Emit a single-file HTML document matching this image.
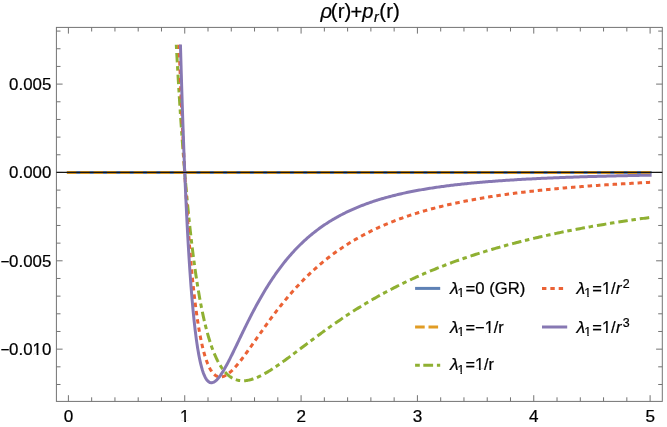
<!DOCTYPE html>
<html><head><meta charset="utf-8"><title>plot</title>
<style>html,body{margin:0;padding:0;background:#fff;}body{width:667px;height:427px;overflow:hidden;font-family:"Liberation Sans",sans-serif;}</style></head>
<body>
<svg width="667" height="427" viewBox="0 0 667 427" style="display:block;will-change:transform">
<rect width="667" height="427" fill="#fff"/>
<defs><clipPath id="pc"><rect x="56.40" y="44.4" width="605.90" height="357.00"/></clipPath></defs>
<g fill="none" stroke-width="3" stroke-linejoin="round" clip-path="url(#pc)">
<path d="M68.4 172.45 H650.1" stroke="#5e81b5" stroke-linecap="square"/>
<path d="M66.9 172.45 H650.3" stroke="#d6941f" stroke-dasharray="9.45 3.9"/>
<path d="M176.30 44.50 L176.32 45.00 L176.38 46.02 L176.45 47.41 L176.54 49.10 L176.65 51.06 L176.77 53.25 L176.90 55.66 L177.05 58.27 L177.20 61.06 L177.37 64.02 L177.54 67.13 L177.73 70.39 L177.93 73.78 L178.13 77.29 L178.35 80.92 L178.57 84.65 L178.80 88.48 L179.04 92.40 L179.29 96.40 L179.55 100.48 L179.81 104.62 L180.08 108.82 L180.36 113.08 L180.65 117.39 L180.94 121.75 L181.24 126.14 L181.55 130.56 L181.87 135.01 L182.19 139.48 L182.52 143.97 L182.85 148.48 L183.19 152.99 L183.54 157.51 L183.90 162.02 L184.26 166.53 L184.62 171.04 L185.00 175.53 L185.38 180.01 L185.76 184.48 L186.15 188.92 L186.55 193.34 L186.95 197.73 L187.36 202.09 L187.78 206.42 L188.20 210.72 L188.62 214.98 L189.05 219.20 L189.49 223.38 L189.93 227.52 L190.38 231.61 L190.84 235.66 L191.29 239.66 L191.76 243.61 L192.23 247.51 L192.70 251.36 L193.18 255.15 L193.67 258.89 L194.16 262.57 L194.65 266.20 L195.15 269.77 L195.66 273.28 L196.17 276.74 L196.69 280.13 L197.21 283.47 L197.73 286.74 L198.26 289.95 L198.80 293.10 L199.34 296.19 L199.88 299.22 L200.43 302.19 L200.98 305.09 L201.54 307.94 L202.10 310.72 L202.67 313.43 L203.25 316.09 L203.82 318.68 L204.40 321.22 L204.99 323.69 L205.58 326.10 L206.18 328.45 L206.78 330.74 L207.38 332.97 L207.99 335.13 L208.60 337.24 L209.22 339.29 L209.84 341.29 L210.47 343.22 L211.10 345.10 L211.73 346.92 L212.37 348.68 L213.02 350.39 L213.67 352.04 L214.32 353.64 L214.97 355.18 L215.63 356.67 L216.30 358.11 L216.97 359.49 L217.64 360.83 L218.32 362.11 L219.00 363.34 L219.68 364.53 L220.37 365.66 L221.07 366.75 L221.76 367.79 L222.47 368.79 L223.17 369.74 L223.88 370.64 L224.59 371.50 L225.31 372.32 L226.03 373.09 L226.76 373.82 L227.49 374.51 L228.22 375.16 L228.96 375.77 L229.70 376.35 L230.44 376.88 L231.19 377.37 L231.95 377.83 L232.70 378.25 L233.46 378.64 L234.23 378.99 L235.00 379.31 L235.77 379.60 L236.54 379.85 L237.32 380.07 L238.10 380.26 L238.89 380.41 L239.68 380.54 L240.48 380.64 L241.27 380.71 L242.08 380.75 L242.88 380.77 L243.69 380.75 L244.50 380.72 L245.32 380.65 L246.14 380.56 L246.96 380.45 L247.79 380.31 L248.62 380.15 L249.45 379.97 L250.29 379.76 L251.13 379.54 L251.98 379.29 L252.83 379.02 L253.68 378.74 L254.53 378.43 L255.39 378.10 L256.26 377.76 L257.12 377.40 L257.99 377.02 L258.87 376.63 L259.74 376.21 L260.62 375.79 L261.51 375.34 L262.39 374.88 L263.28 374.41 L264.18 373.93 L265.07 373.43 L265.98 372.91 L266.88 372.39 L267.79 371.85 L268.70 371.30 L269.61 370.73 L270.53 370.16 L271.45 369.58 L272.38 368.98 L273.30 368.38 L274.23 367.76 L275.17 367.14 L276.11 366.50 L277.05 365.86 L277.99 365.21 L278.94 364.55 L279.89 363.89 L280.84 363.21 L281.80 362.53 L282.76 361.84 L283.73 361.15 L284.69 360.45 L285.66 359.74 L286.64 359.03 L287.62 358.31 L288.60 357.58 L289.58 356.86 L290.57 356.12 L291.56 355.38 L292.55 354.64 L293.55 353.90 L294.54 353.15 L295.55 352.39 L296.55 351.63 L297.56 350.87 L298.57 350.11 L299.59 349.34 L300.61 348.57 L301.63 347.80 L302.65 347.03 L303.68 346.25 L304.71 345.47 L305.75 344.69 L306.78 343.91 L307.82 343.13 L308.87 342.35 L309.91 341.56 L310.96 340.77 L312.02 339.99 L313.07 339.20 L314.13 338.41 L315.19 337.62 L316.26 336.83 L317.33 336.05 L318.40 335.26 L319.47 334.47 L320.55 333.68 L321.63 332.89 L322.71 332.10 L323.80 331.32 L324.89 330.53 L325.98 329.74 L327.07 328.96 L328.17 328.17 L329.27 327.39 L330.38 326.61 L331.48 325.83 L332.59 325.05 L333.71 324.27 L334.82 323.49 L335.94 322.72 L337.06 321.95 L338.19 321.17 L339.31 320.40 L340.45 319.64 L341.58 318.87 L342.72 318.10 L343.85 317.34 L345.00 316.58 L346.14 315.82 L347.29 315.07 L348.44 314.31 L349.60 313.56 L350.75 312.81 L351.91 312.07 L353.07 311.32 L354.24 310.58 L355.41 309.84 L356.58 309.10 L357.75 308.37 L358.93 307.64 L360.11 306.91 L361.29 306.18 L362.48 305.46 L363.67 304.74 L364.86 304.02 L366.05 303.30 L367.25 302.59 L368.45 301.88 L369.65 301.18 L370.85 300.47 L372.06 299.77 L373.27 299.07 L374.49 298.38 L375.70 297.69 L376.92 297.00 L378.14 296.31 L379.37 295.63 L380.60 294.95 L381.83 294.27 L383.06 293.60 L384.30 292.93 L385.53 292.26 L386.78 291.60 L388.02 290.94 L389.27 290.28 L390.52 289.63 L391.77 288.98 L393.02 288.33 L394.28 287.68 L395.54 287.04 L396.80 286.40 L398.07 285.77 L399.34 285.14 L400.61 284.51 L401.88 283.88 L403.16 283.26 L404.44 282.64 L405.72 282.02 L407.01 281.41 L408.30 280.80 L409.59 280.20 L410.88 279.59 L412.17 278.99 L413.47 278.40 L414.77 277.80 L416.08 277.21 L417.38 276.62 L418.69 276.04 L420.00 275.46 L421.32 274.88 L422.63 274.31 L423.95 273.74 L425.28 273.17 L426.60 272.60 L427.93 272.04 L429.26 271.48 L430.59 270.93 L431.93 270.38 L433.26 269.83 L434.61 269.28 L435.95 268.74 L437.29 268.20 L438.64 267.66 L439.99 267.13 L441.35 266.60 L442.70 266.07 L444.06 265.55 L445.42 265.02 L446.79 264.51 L448.15 263.99 L449.52 263.48 L450.89 262.97 L452.27 262.46 L453.65 261.96 L455.03 261.46 L456.41 260.96 L457.79 260.47 L459.18 259.98 L460.57 259.49 L461.96 259.00 L463.36 258.52 L464.75 258.04 L466.15 257.56 L467.56 257.09 L468.96 256.62 L470.37 256.15 L471.78 255.68 L473.19 255.22 L474.60 254.76 L476.02 254.30 L477.44 253.85 L478.87 253.39 L480.29 252.95 L481.72 252.50 L483.15 252.06 L484.58 251.61 L486.02 251.18 L487.45 250.74 L488.89 250.31 L490.34 249.88 L491.78 249.45 L493.23 249.02 L494.68 248.60 L496.13 248.18 L497.59 247.76 L499.04 247.35 L500.50 246.94 L501.97 246.53 L503.43 246.12 L504.90 245.72 L506.37 245.31 L507.84 244.91 L509.32 244.52 L510.79 244.12 L512.27 243.73 L513.75 243.34 L515.24 242.95 L516.73 242.57 L518.22 242.18 L519.71 241.80 L521.20 241.43 L522.70 241.05 L524.20 240.68 L525.70 240.31 L527.20 239.94 L528.71 239.57 L530.22 239.21 L531.73 238.84 L533.24 238.48 L534.76 238.13 L536.28 237.77 L537.80 237.42 L539.32 237.07 L540.85 236.72 L542.38 236.37 L543.91 236.03 L545.44 235.69 L546.98 235.35 L548.51 235.01 L550.05 234.67 L551.60 234.34 L553.14 234.01 L554.69 233.68 L556.24 233.35 L557.79 233.02 L559.34 232.70 L560.90 232.38 L562.46 232.06 L564.02 231.74 L565.58 231.43 L567.15 231.11 L568.72 230.80 L570.29 230.49 L571.86 230.18 L573.44 229.88 L575.02 229.57 L576.60 229.27 L578.18 228.97 L579.76 228.67 L581.35 228.38 L582.94 228.08 L584.53 227.79 L586.13 227.50 L587.72 227.21 L589.32 226.92 L590.92 226.64 L592.53 226.35 L594.13 226.07 L595.74 225.79 L597.35 225.51 L598.97 225.23 L600.58 224.96 L602.20 224.69 L603.82 224.41 L605.44 224.14 L607.06 223.88 L608.69 223.61 L610.32 223.34 L611.95 223.08 L613.59 222.82 L615.22 222.56 L616.86 222.30 L618.50 222.04 L620.14 221.79 L621.79 221.53 L623.43 221.28 L625.08 221.03 L626.74 220.78 L628.39 220.53 L630.05 220.29 L631.71 220.04 L633.37 219.80 L635.03 219.56 L636.69 219.32 L638.36 219.08 L640.03 218.84 L641.70 218.60 L643.38 218.37 L645.06 218.14 L646.74 217.91 L648.42 217.68 L650.10 217.45" stroke="#8fb032" stroke-dasharray="4.5 3.97 9.5 3.72"/>
<path d="M179.06 44.50 L179.09 45.24 L179.14 46.73 L179.22 48.76 L179.31 51.22 L179.41 54.07 L179.53 57.25 L179.66 60.74 L179.81 64.51 L179.96 68.52 L180.13 72.76 L180.30 77.21 L180.49 81.85 L180.68 86.65 L180.89 91.61 L181.10 96.71 L181.32 101.93 L181.55 107.27 L181.79 112.70 L182.04 118.21 L182.29 123.80 L182.56 129.45 L182.83 135.15 L183.10 140.89 L183.39 146.66 L183.68 152.45 L183.98 158.26 L184.29 164.07 L184.60 169.87 L184.92 175.66 L185.24 181.43 L185.58 187.18 L185.92 192.89 L186.26 198.56 L186.62 204.19 L186.97 209.76 L187.34 215.28 L187.71 220.74 L188.09 226.13 L188.47 231.45 L188.86 236.70 L189.25 241.86 L189.66 246.95 L190.06 251.95 L190.47 256.87 L190.89 261.69 L191.32 266.42 L191.74 271.06 L192.18 275.60 L192.62 280.04 L193.06 284.37 L193.52 288.61 L193.97 292.74 L194.43 296.77 L194.90 300.70 L195.37 304.52 L195.85 308.23 L196.33 311.83 L196.82 315.33 L197.31 318.72 L197.81 322.01 L198.31 325.18 L198.82 328.26 L199.33 331.22 L199.85 334.08 L200.37 336.84 L200.90 339.49 L201.43 342.04 L201.97 344.48 L202.51 346.83 L203.05 349.07 L203.60 351.22 L204.16 353.27 L204.72 355.22 L205.28 357.07 L205.85 358.84 L206.43 360.50 L207.01 362.08 L207.59 363.57 L208.18 364.97 L208.77 366.28 L209.36 367.51 L209.96 368.66 L210.57 369.72 L211.18 370.71 L211.79 371.61 L212.41 372.44 L213.03 373.19 L213.66 373.87 L214.29 374.48 L214.93 375.01 L215.57 375.48 L216.21 375.88 L216.86 376.22 L217.51 376.49 L218.17 376.70 L218.83 376.85 L219.49 376.94 L220.16 376.98 L220.84 376.96 L221.51 376.88 L222.20 376.75 L222.88 376.58 L223.57 376.35 L224.26 376.07 L224.96 375.75 L225.66 375.39 L226.37 374.98 L227.08 374.53 L227.79 374.04 L228.51 373.51 L229.23 372.94 L229.95 372.33 L230.68 371.69 L231.42 371.02 L232.15 370.31 L232.89 369.58 L233.64 368.81 L234.39 368.01 L235.14 367.19 L235.89 366.34 L236.65 365.47 L237.42 364.57 L238.18 363.64 L238.96 362.70 L239.73 361.73 L240.51 360.75 L241.29 359.74 L242.08 358.72 L242.87 357.68 L243.66 356.62 L244.46 355.55 L245.26 354.46 L246.06 353.36 L246.87 352.25 L247.68 351.12 L248.50 349.98 L249.31 348.83 L250.14 347.68 L250.96 346.51 L251.79 345.33 L252.62 344.15 L253.46 342.96 L254.30 341.76 L255.14 340.56 L255.99 339.35 L256.84 338.14 L257.70 336.92 L258.55 335.70 L259.42 334.47 L260.28 333.24 L261.15 332.01 L262.02 330.78 L262.89 329.55 L263.77 328.32 L264.66 327.08 L265.54 325.85 L266.43 324.61 L267.32 323.38 L268.22 322.15 L269.12 320.92 L270.02 319.69 L270.92 318.46 L271.83 317.24 L272.74 316.02 L273.66 314.80 L274.58 313.58 L275.50 312.37 L276.43 311.17 L277.36 309.96 L278.29 308.76 L279.22 307.57 L280.16 306.38 L281.11 305.19 L282.05 304.01 L283.00 302.84 L283.95 301.67 L284.91 300.51 L285.86 299.35 L286.83 298.20 L287.79 297.05 L288.76 295.91 L289.73 294.78 L290.71 293.66 L291.68 292.54 L292.66 291.42 L293.65 290.32 L294.64 289.22 L295.63 288.13 L296.62 287.04 L297.62 285.97 L298.62 284.90 L299.62 283.83 L300.63 282.78 L301.63 281.73 L302.65 280.69 L303.66 279.66 L304.68 278.63 L305.70 277.61 L306.73 276.60 L307.76 275.60 L308.79 274.61 L309.82 273.62 L310.86 272.64 L311.90 271.67 L312.94 270.71 L313.99 269.75 L315.04 268.81 L316.09 267.87 L317.15 266.93 L318.21 266.01 L319.27 265.09 L320.33 264.19 L321.40 263.28 L322.47 262.39 L323.54 261.51 L324.62 260.63 L325.70 259.76 L326.78 258.90 L327.87 258.05 L328.96 257.20 L330.05 256.36 L331.14 255.53 L332.24 254.71 L333.34 253.89 L334.45 253.08 L335.55 252.28 L336.66 251.49 L337.77 250.70 L338.89 249.92 L340.01 249.15 L341.13 248.39 L342.25 247.63 L343.38 246.88 L344.51 246.14 L345.64 245.41 L346.78 244.68 L347.92 243.96 L349.06 243.24 L350.20 242.54 L351.35 241.84 L352.50 241.14 L353.65 240.46 L354.81 239.78 L355.97 239.11 L357.13 238.44 L358.29 237.78 L359.46 237.13 L360.63 236.48 L361.80 235.84 L362.98 235.21 L364.16 234.58 L365.34 233.96 L366.52 233.35 L367.71 232.74 L368.90 232.14 L370.09 231.54 L371.29 230.95 L372.48 230.37 L373.68 229.79 L374.89 229.22 L376.09 228.65 L377.30 228.09 L378.52 227.54 L379.73 226.99 L380.95 226.45 L382.17 225.91 L383.39 225.38 L384.62 224.85 L385.85 224.33 L387.08 223.82 L388.31 223.31 L389.55 222.80 L390.79 222.31 L392.03 221.81 L393.28 221.32 L394.52 220.84 L395.77 220.36 L397.03 219.89 L398.28 219.42 L399.54 218.95 L400.80 218.49 L402.07 218.04 L403.33 217.59 L404.60 217.15 L405.87 216.71 L407.15 216.27 L408.43 215.84 L409.71 215.41 L410.99 214.99 L412.27 214.57 L413.56 214.16 L414.85 213.75 L416.15 213.35 L417.44 212.95 L418.74 212.55 L420.04 212.16 L421.35 211.77 L422.65 211.39 L423.96 211.01 L425.27 210.64 L426.59 210.27 L427.91 209.90 L429.22 209.53 L430.55 209.17 L431.87 208.82 L433.20 208.47 L434.53 208.12 L435.86 207.77 L437.20 207.43 L438.54 207.10 L439.88 206.76 L441.22 206.43 L442.56 206.10 L443.91 205.78 L445.26 205.46 L446.62 205.14 L447.97 204.83 L449.33 204.52 L450.69 204.21 L452.06 203.91 L453.42 203.61 L454.79 203.31 L456.16 203.02 L457.54 202.73 L458.91 202.44 L460.29 202.16 L461.67 201.88 L463.06 201.60 L464.45 201.32 L465.83 201.05 L467.23 200.78 L468.62 200.51 L470.02 200.25 L471.42 199.98 L472.82 199.73 L474.22 199.47 L475.63 199.22 L477.04 198.96 L478.45 198.72 L479.86 198.47 L481.28 198.23 L482.70 197.99 L484.12 197.75 L485.55 197.51 L486.97 197.28 L488.40 197.05 L489.83 196.82 L491.27 196.60 L492.71 196.37 L494.14 196.15 L495.59 195.93 L497.03 195.72 L498.48 195.50 L499.93 195.29 L501.38 195.08 L502.83 194.87 L504.29 194.67 L505.75 194.46 L507.21 194.26 L508.67 194.06 L510.14 193.86 L511.61 193.67 L513.08 193.48 L514.55 193.28 L516.03 193.10 L517.50 192.91 L518.99 192.72 L520.47 192.54 L521.95 192.36 L523.44 192.18 L524.93 192.00 L526.43 191.82 L527.92 191.65 L529.42 191.48 L530.92 191.31 L532.42 191.14 L533.93 190.97 L535.43 190.80 L536.94 190.64 L538.45 190.48 L539.97 190.32 L541.49 190.16 L543.01 190.00 L544.53 189.85 L546.05 189.69 L547.58 189.54 L549.11 189.39 L550.64 189.24 L552.17 189.09 L553.71 188.94 L555.24 188.80 L556.78 188.65 L558.33 188.51 L559.87 188.37 L561.42 188.23 L562.97 188.09 L564.52 187.96 L566.08 187.82 L567.63 187.69 L569.19 187.56 L570.76 187.42 L572.32 187.29 L573.89 187.17 L575.45 187.04 L577.03 186.91 L578.60 186.79 L580.17 186.66 L581.75 186.54 L583.33 186.42 L584.92 186.30 L586.50 186.18 L588.09 186.06 L589.68 185.95 L591.27 185.83 L592.86 185.72 L594.46 185.61 L596.06 185.49 L597.66 185.38 L599.26 185.27 L600.87 185.16 L602.48 185.06 L604.09 184.95 L605.70 184.84 L607.32 184.74 L608.93 184.64 L610.55 184.53 L612.17 184.43 L613.80 184.33 L615.42 184.23 L617.05 184.13 L618.68 184.04 L620.32 183.94 L621.95 183.84 L623.59 183.75 L625.23 183.65 L626.87 183.56 L628.52 183.47 L630.16 183.38 L631.81 183.29 L633.46 183.20 L635.12 183.11 L636.77 183.02 L638.43 182.94 L640.09 182.85 L641.75 182.76 L643.42 182.68 L645.09 182.60 L646.75 182.51 L648.43 182.43 L650.10 182.35" stroke="#eb6235" stroke-dasharray="4.5 3.845"/>
<path d="M180.44 44.50 L180.47 45.46 L180.52 47.41 L180.59 50.05 L180.69 53.25 L180.79 56.95 L180.91 61.08 L181.04 65.58 L181.18 70.44 L181.34 75.60 L181.50 81.03 L181.68 86.71 L181.86 92.62 L182.06 98.71 L182.26 104.98 L182.47 111.40 L182.70 117.95 L182.92 124.60 L183.16 131.35 L183.41 138.17 L183.66 145.04 L183.92 151.96 L184.19 158.90 L184.47 165.85 L184.75 172.80 L185.05 179.74 L185.34 186.64 L185.65 193.51 L185.96 200.33 L186.28 207.09 L186.61 213.78 L186.94 220.39 L187.28 226.92 L187.62 233.36 L187.97 239.69 L188.33 245.91 L188.69 252.03 L189.06 258.02 L189.44 263.89 L189.82 269.63 L190.21 275.24 L190.60 280.71 L191.00 286.04 L191.41 291.23 L191.82 296.28 L192.24 301.18 L192.66 305.93 L193.09 310.52 L193.52 314.97 L193.96 319.27 L194.40 323.41 L194.85 327.40 L195.31 331.24 L195.77 334.93 L196.23 338.46 L196.70 341.84 L197.18 345.07 L197.66 348.16 L198.15 351.09 L198.64 353.88 L199.13 356.53 L199.63 359.03 L200.14 361.39 L200.65 363.61 L201.17 365.70 L201.69 367.65 L202.21 369.46 L202.74 371.15 L203.28 372.71 L203.82 374.15 L204.36 375.47 L204.91 376.66 L205.46 377.74 L206.02 378.71 L206.59 379.56 L207.15 380.30 L207.73 380.94 L208.30 381.48 L208.88 381.92 L209.47 382.26 L210.06 382.51 L210.65 382.66 L211.25 382.73 L211.86 382.71 L212.46 382.60 L213.08 382.42 L213.69 382.16 L214.31 381.83 L214.94 381.42 L215.57 380.94 L216.20 380.40 L216.84 379.79 L217.48 379.12 L218.13 378.39 L218.78 377.60 L219.43 376.76 L220.09 375.87 L220.76 374.92 L221.42 373.93 L222.09 372.90 L222.77 371.82 L223.45 370.69 L224.13 369.53 L224.82 368.33 L225.51 367.10 L226.21 365.83 L226.91 364.54 L227.61 363.21 L228.32 361.85 L229.03 360.47 L229.74 359.06 L230.46 357.63 L231.18 356.18 L231.91 354.71 L232.64 353.22 L233.38 351.72 L234.12 350.19 L234.86 348.66 L235.60 347.11 L236.35 345.55 L237.11 343.98 L237.86 342.39 L238.63 340.81 L239.39 339.21 L240.16 337.61 L240.93 336.00 L241.71 334.39 L242.49 332.77 L243.27 331.16 L244.06 329.54 L244.85 327.92 L245.64 326.30 L246.44 324.68 L247.24 323.07 L248.05 321.45 L248.86 319.84 L249.67 318.24 L250.49 316.63 L251.31 315.04 L252.13 313.44 L252.96 311.86 L253.79 310.28 L254.62 308.71 L255.46 307.14 L256.30 305.58 L257.15 304.03 L257.99 302.49 L258.85 300.96 L259.70 299.44 L260.56 297.93 L261.42 296.43 L262.29 294.93 L263.16 293.45 L264.03 291.98 L264.90 290.52 L265.78 289.07 L266.67 287.64 L267.55 286.21 L268.44 284.80 L269.33 283.39 L270.23 282.00 L271.13 280.63 L272.03 279.26 L272.94 277.91 L273.85 276.57 L274.76 275.24 L275.68 273.93 L276.60 272.63 L277.52 271.34 L278.45 270.06 L279.38 268.80 L280.31 267.55 L281.25 266.31 L282.19 265.09 L283.13 263.88 L284.07 262.68 L285.02 261.49 L285.98 260.32 L286.93 259.16 L287.89 258.02 L288.85 256.88 L289.82 255.76 L290.79 254.66 L291.76 253.56 L292.73 252.48 L293.71 251.41 L294.69 250.35 L295.68 249.31 L296.66 248.28 L297.65 247.26 L298.65 246.25 L299.65 245.26 L300.65 244.28 L301.65 243.31 L302.66 242.35 L303.66 241.40 L304.68 240.47 L305.69 239.55 L306.71 238.64 L307.73 237.74 L308.76 236.85 L309.79 235.97 L310.82 235.11 L311.85 234.25 L312.89 233.41 L313.93 232.58 L314.97 231.76 L316.02 230.95 L317.07 230.15 L318.12 229.36 L319.18 228.58 L320.24 227.81 L321.30 227.05 L322.36 226.31 L323.43 225.57 L324.50 224.84 L325.57 224.12 L326.65 223.41 L327.73 222.72 L328.81 222.03 L329.90 221.35 L330.99 220.68 L332.08 220.01 L333.17 219.36 L334.27 218.72 L335.37 218.08 L336.47 217.46 L337.58 216.84 L338.69 216.23 L339.80 215.63 L340.91 215.04 L342.03 214.46 L343.15 213.88 L344.28 213.31 L345.40 212.75 L346.53 212.20 L347.67 211.66 L348.80 211.12 L349.94 210.59 L351.08 210.07 L352.22 209.55 L353.37 209.05 L354.52 208.55 L355.67 208.05 L356.83 207.57 L357.99 207.09 L359.15 206.62 L360.31 206.15 L361.48 205.69 L362.65 205.24 L363.82 204.79 L364.99 204.35 L366.17 203.92 L367.35 203.49 L368.53 203.07 L369.72 202.65 L370.91 202.25 L372.10 201.84 L373.30 201.44 L374.49 201.05 L375.69 200.66 L376.90 200.28 L378.10 199.91 L379.31 199.54 L380.52 199.17 L381.74 198.81 L382.95 198.46 L384.17 198.11 L385.40 197.76 L386.62 197.42 L387.85 197.08 L389.08 196.75 L390.31 196.43 L391.55 196.11 L392.79 195.79 L394.03 195.48 L395.27 195.17 L396.52 194.87 L397.77 194.57 L399.02 194.27 L400.27 193.98 L401.53 193.70 L402.79 193.41 L404.06 193.14 L405.32 192.86 L406.59 192.59 L407.86 192.33 L409.13 192.06 L410.41 191.80 L411.69 191.55 L412.97 191.30 L414.25 191.05 L415.54 190.80 L416.83 190.56 L418.12 190.32 L419.42 190.09 L420.72 189.86 L422.02 189.63 L423.32 189.41 L424.62 189.18 L425.93 188.97 L427.24 188.75 L428.56 188.54 L429.87 188.33 L431.19 188.12 L432.51 187.92 L433.83 187.72 L435.16 187.52 L436.49 187.33 L437.82 187.13 L439.16 186.94 L440.49 186.76 L441.83 186.57 L443.17 186.39 L444.52 186.21 L445.86 186.03 L447.21 185.86 L448.57 185.69 L449.92 185.52 L451.28 185.35 L452.64 185.19 L454.00 185.02 L455.36 184.86 L456.73 184.71 L458.10 184.55 L459.47 184.40 L460.85 184.25 L462.23 184.10 L463.61 183.95 L464.99 183.80 L466.37 183.66 L467.76 183.52 L469.15 183.38 L470.54 183.24 L471.94 183.11 L473.34 182.97 L474.74 182.84 L476.14 182.71 L477.55 182.58 L478.95 182.46 L480.36 182.33 L481.78 182.21 L483.19 182.09 L484.61 181.97 L486.03 181.85 L487.45 181.73 L488.88 181.62 L490.30 181.51 L491.73 181.39 L493.17 181.28 L494.60 181.18 L496.04 181.07 L497.48 180.96 L498.92 180.86 L500.37 180.75 L501.81 180.65 L503.26 180.55 L504.71 180.45 L506.17 180.36 L507.63 180.26 L509.09 180.17 L510.55 180.07 L512.01 179.98 L513.48 179.89 L514.95 179.80 L516.42 179.71 L517.89 179.62 L519.37 179.54 L520.85 179.45 L522.33 179.37 L523.81 179.28 L525.30 179.20 L526.79 179.12 L528.28 179.04 L529.77 178.96 L531.27 178.88 L532.77 178.81 L534.27 178.73 L535.77 178.66 L537.27 178.58 L538.78 178.51 L540.29 178.44 L541.80 178.37 L543.32 178.30 L544.84 178.23 L546.36 178.16 L547.88 178.10 L549.40 178.03 L550.93 177.96 L552.46 177.90 L553.99 177.84 L555.52 177.77 L557.06 177.71 L558.60 177.65 L560.14 177.59 L561.68 177.53 L563.23 177.47 L564.77 177.41 L566.32 177.36 L567.88 177.30 L569.43 177.24 L570.99 177.19 L572.55 177.13 L574.11 177.08 L575.67 177.03 L577.24 176.97 L578.81 176.92 L580.38 176.87 L581.95 176.82 L583.53 176.77 L585.11 176.72 L586.69 176.67 L588.27 176.62 L589.85 176.58 L591.44 176.53 L593.03 176.48 L594.62 176.44 L596.22 176.39 L597.81 176.35 L599.41 176.31 L601.01 176.26 L602.62 176.22 L604.22 176.18 L605.83 176.14 L607.44 176.09 L609.05 176.05 L610.67 176.01 L612.29 175.97 L613.90 175.93 L615.53 175.90 L617.15 175.86 L618.78 175.82 L620.40 175.78 L622.04 175.75 L623.67 175.71 L625.30 175.67 L626.94 175.64 L628.58 175.60 L630.22 175.57 L631.87 175.53 L633.51 175.50 L635.16 175.47 L636.81 175.44 L638.47 175.40 L640.12 175.37 L641.78 175.34 L643.44 175.31 L645.10 175.28 L646.76 175.25 L648.43 175.22 L650.10 175.19" stroke="#8778b3" stroke-linecap="square"/>
</g>
<g stroke="#737373" stroke-width="1" fill="none">
<rect x="56.40" y="27.40" width="605.90" height="374.00"/>
<path d="M68.40 401.40 v-6.20 M68.40 27.40 v6.20 M91.67 401.40 v-4.10 M91.67 27.40 v4.10 M114.94 401.40 v-4.10 M114.94 27.40 v4.10 M138.20 401.40 v-4.10 M138.20 27.40 v4.10 M161.47 401.40 v-4.10 M161.47 27.40 v4.10 M184.74 401.40 v-6.20 M184.74 27.40 v6.20 M208.01 401.40 v-4.10 M208.01 27.40 v4.10 M231.28 401.40 v-4.10 M231.28 27.40 v4.10 M254.54 401.40 v-4.10 M254.54 27.40 v4.10 M277.81 401.40 v-4.10 M277.81 27.40 v4.10 M301.08 401.40 v-6.20 M301.08 27.40 v6.20 M324.35 401.40 v-4.10 M324.35 27.40 v4.10 M347.62 401.40 v-4.10 M347.62 27.40 v4.10 M370.88 401.40 v-4.10 M370.88 27.40 v4.10 M394.15 401.40 v-4.10 M394.15 27.40 v4.10 M417.42 401.40 v-6.20 M417.42 27.40 v6.20 M440.69 401.40 v-4.10 M440.69 27.40 v4.10 M463.96 401.40 v-4.10 M463.96 27.40 v4.10 M487.22 401.40 v-4.10 M487.22 27.40 v4.10 M510.49 401.40 v-4.10 M510.49 27.40 v4.10 M533.76 401.40 v-6.20 M533.76 27.40 v6.20 M557.03 401.40 v-4.10 M557.03 27.40 v4.10 M580.30 401.40 v-4.10 M580.30 27.40 v4.10 M603.56 401.40 v-4.10 M603.56 27.40 v4.10 M626.83 401.40 v-4.10 M626.83 27.40 v4.10 M650.10 401.40 v-6.20 M650.10 27.40 v6.20 M56.40 384.49 h4.10 M662.30 384.49 h-4.10 M56.40 366.82 h4.10 M662.30 366.82 h-4.10 M56.40 349.15 h6.20 M662.30 349.15 h-6.20 M56.40 331.48 h4.10 M662.30 331.48 h-4.10 M56.40 313.81 h4.10 M662.30 313.81 h-4.10 M56.40 296.14 h4.10 M662.30 296.14 h-4.10 M56.40 278.47 h4.10 M662.30 278.47 h-4.10 M56.40 260.80 h6.20 M662.30 260.80 h-6.20 M56.40 243.13 h4.10 M662.30 243.13 h-4.10 M56.40 225.46 h4.10 M662.30 225.46 h-4.10 M56.40 207.79 h4.10 M662.30 207.79 h-4.10 M56.40 190.12 h4.10 M662.30 190.12 h-4.10 M56.40 172.45 h6.20 M662.30 172.45 h-6.20 M56.40 154.78 h4.10 M662.30 154.78 h-4.10 M56.40 137.11 h4.10 M662.30 137.11 h-4.10 M56.40 119.44 h4.10 M662.30 119.44 h-4.10 M56.40 101.77 h4.10 M662.30 101.77 h-4.10 M56.40 84.10 h6.20 M662.30 84.10 h-6.20 M56.40 66.43 h4.10 M662.30 66.43 h-4.10 M56.40 48.76 h4.10 M662.30 48.76 h-4.10 M56.40 31.09 h4.10 M662.30 31.09 h-4.10"/>
</g>
<path d="M56.40 172.45 H662.30" stroke="#161616" stroke-width="1.2" fill="none"/>
<g font-family="'Liberation Sans', sans-serif" fill="#000" stroke="#000" stroke-width="0.22">
<text transform="translate(320.50 18.00) scale(1.0000 1)" font-size="20.2" font-style="italic">ρ</text>
<text transform="translate(330.83 18.00) scale(1.0141 1)" font-size="20.2">(r)</text>
<text transform="translate(350.38 19.20) scale(1.0000 1)" font-size="20.2">+</text>
<text transform="translate(362.30 18.00) scale(1.0000 1)" font-size="20.2" font-style="italic">p</text>
<text transform="translate(374.00 22.10) scale(1.0000 1)" font-size="14.2" font-style="italic">r</text>
<text transform="translate(379.33 18.00) scale(1.0141 1)" font-size="20.2">(r)</text>
<text transform="translate(9.12 89.80) scale(1.0344 1)" font-size="16.3">0.005</text>
<text transform="translate(9.12 178.20) scale(1.0344 1)" font-size="16.3">0.000</text>
<text transform="translate(9.12 266.70) scale(1.0344 1)" font-size="16.3">0.005</text>
<text transform="translate(0.38 266.70) scale(0.9300 1)" font-size="16.3">−</text>
<text transform="translate(9.12 355.10) scale(1.0344 1)" font-size="16.3" clip-path="url(#c0)">0.010</text>
<text transform="translate(0.38 355.10) scale(0.9300 1)" font-size="16.3">−</text>
<text transform="translate(449.91 293.70) scale(1.0200 1)" font-size="17.3" font-style="italic">λ</text>
<text transform="translate(457.54 296.90) scale(1.0200 1)" font-size="12.2" clip-path="url(#c1)">1</text>
<text transform="translate(449.91 332.50) scale(1.0200 1)" font-size="17.3" font-style="italic">λ</text>
<text transform="translate(457.54 335.70) scale(1.0200 1)" font-size="12.2" clip-path="url(#c2)">1</text>
<text transform="translate(449.91 370.40) scale(1.0200 1)" font-size="17.3" font-style="italic">λ</text>
<text transform="translate(457.54 373.60) scale(1.0200 1)" font-size="12.2" clip-path="url(#c3)">1</text>
<text transform="translate(465.53 293.70) scale(1.0265 1)" font-size="16.3">=0 (GR)</text>
<text transform="translate(465.55 332.50) scale(1.0054 1)" font-size="16.3" clip-path="url(#c4)">=−1/r</text>
<text transform="translate(465.55 370.40) scale(0.9964 1)" font-size="16.3" clip-path="url(#c5)">=1/r</text>
<text transform="translate(576.56 293.70) scale(1.0200 1)" font-size="17.3" font-style="italic">λ</text>
<text transform="translate(584.34 296.90) scale(1.0200 1)" font-size="12.2" clip-path="url(#c6)">1</text>
<text transform="translate(592.34 293.70) scale(1.0112 1)" font-size="16.3" clip-path="url(#c7)">=1/</text>
<text transform="translate(616.01 293.70) scale(1.0200 1)" font-size="16.3" font-style="italic">r</text>
<text transform="translate(622.66 288.40) scale(1.0200 1)" font-size="12.2">2</text>
<text transform="translate(576.56 332.50) scale(1.0200 1)" font-size="17.3" font-style="italic">λ</text>
<text transform="translate(584.34 335.70) scale(1.0200 1)" font-size="12.2" clip-path="url(#c8)">1</text>
<text transform="translate(592.34 332.50) scale(1.0112 1)" font-size="16.3" clip-path="url(#c9)">=1/</text>
<text transform="translate(616.01 332.50) scale(1.0200 1)" font-size="16.3" font-style="italic">r</text>
<text transform="translate(622.66 327.20) scale(1.0200 1)" font-size="12.2">3</text>
<text transform="translate(68.50 422) scale(1.05 1)" font-size="16.3" text-anchor="middle">0</text>
<text transform="translate(184.84 422) scale(1.05 1)" font-size="16.3" text-anchor="middle" clip-path="url(#c10)">1</text>
<text transform="translate(301.18 422) scale(1.05 1)" font-size="16.3" text-anchor="middle">2</text>
<text transform="translate(417.52 422) scale(1.05 1)" font-size="16.3" text-anchor="middle">3</text>
<text transform="translate(533.86 422) scale(1.05 1)" font-size="16.3" text-anchor="middle">4</text>
<text transform="translate(650.20 422) scale(1.05 1)" font-size="16.3" text-anchor="middle">5</text>
</g>
<defs><clipPath id="c0"><path clip-rule="evenodd" d="M-200 -200H400V200H-200Z M23.30 -1.82H26.64V1H23.30Z M28.32 -1.82H31.53V1H28.32Z"/></clipPath><clipPath id="c1"><path clip-rule="evenodd" d="M-200 -200H400V200H-200Z M0.33 -1.51H2.95V1H0.33Z M4.27 -1.51H6.79V1H4.27Z"/></clipPath><clipPath id="c2"><path clip-rule="evenodd" d="M-200 -200H400V200H-200Z M0.33 -1.51H2.95V1H0.33Z M4.27 -1.51H6.79V1H4.27Z"/></clipPath><clipPath id="c3"><path clip-rule="evenodd" d="M-200 -200H400V200H-200Z M0.33 -1.51H2.95V1H0.33Z M4.27 -1.51H6.79V1H4.27Z"/></clipPath><clipPath id="c4"><path clip-rule="evenodd" d="M-200 -200H400V200H-200Z M19.68 -1.82H23.02V1H19.68Z M24.70 -1.82H27.91V1H24.70Z"/></clipPath><clipPath id="c5"><path clip-rule="evenodd" d="M-200 -200H400V200H-200Z M10.16 -1.82H13.50V1H10.16Z M15.18 -1.82H18.39V1H15.18Z"/></clipPath><clipPath id="c6"><path clip-rule="evenodd" d="M-200 -200H400V200H-200Z M0.33 -1.51H2.95V1H0.33Z M4.27 -1.51H6.79V1H4.27Z"/></clipPath><clipPath id="c7"><path clip-rule="evenodd" d="M-200 -200H400V200H-200Z M10.16 -1.82H13.50V1H10.16Z M15.18 -1.82H18.39V1H15.18Z"/></clipPath><clipPath id="c8"><path clip-rule="evenodd" d="M-200 -200H400V200H-200Z M0.33 -1.51H2.95V1H0.33Z M4.27 -1.51H6.79V1H4.27Z"/></clipPath><clipPath id="c9"><path clip-rule="evenodd" d="M-200 -200H400V200H-200Z M10.16 -1.82H13.50V1H10.16Z M15.18 -1.82H18.39V1H15.18Z"/></clipPath><clipPath id="c10"><path clip-rule="evenodd" d="M-200 -200H400V200H-200Z M-3.89 -1.82H-0.55V1H-3.89Z M1.13 -1.82H4.34V1H1.13Z"/></clipPath></defs>
<g fill="none" stroke-width="3">
<path d="M415.1 288.4 H440.2" stroke="#5e81b5"/>
<path d="M415.1 327.05 H438.1" stroke="#e19c24" stroke-dasharray="9.6 3.8"/>
<path d="M415.1 365.2 H440.2" stroke="#8fb032" stroke-dasharray="4.7 3.5 9.8 3.8 3.3 20"/>
<path d="M542 288.5 H563.2" stroke="#eb6235" stroke-dasharray="4.4 3.95"/>
<path d="M542 327.0 H567.2" stroke="#8778b3"/>
</g>
</svg>
</body></html>
